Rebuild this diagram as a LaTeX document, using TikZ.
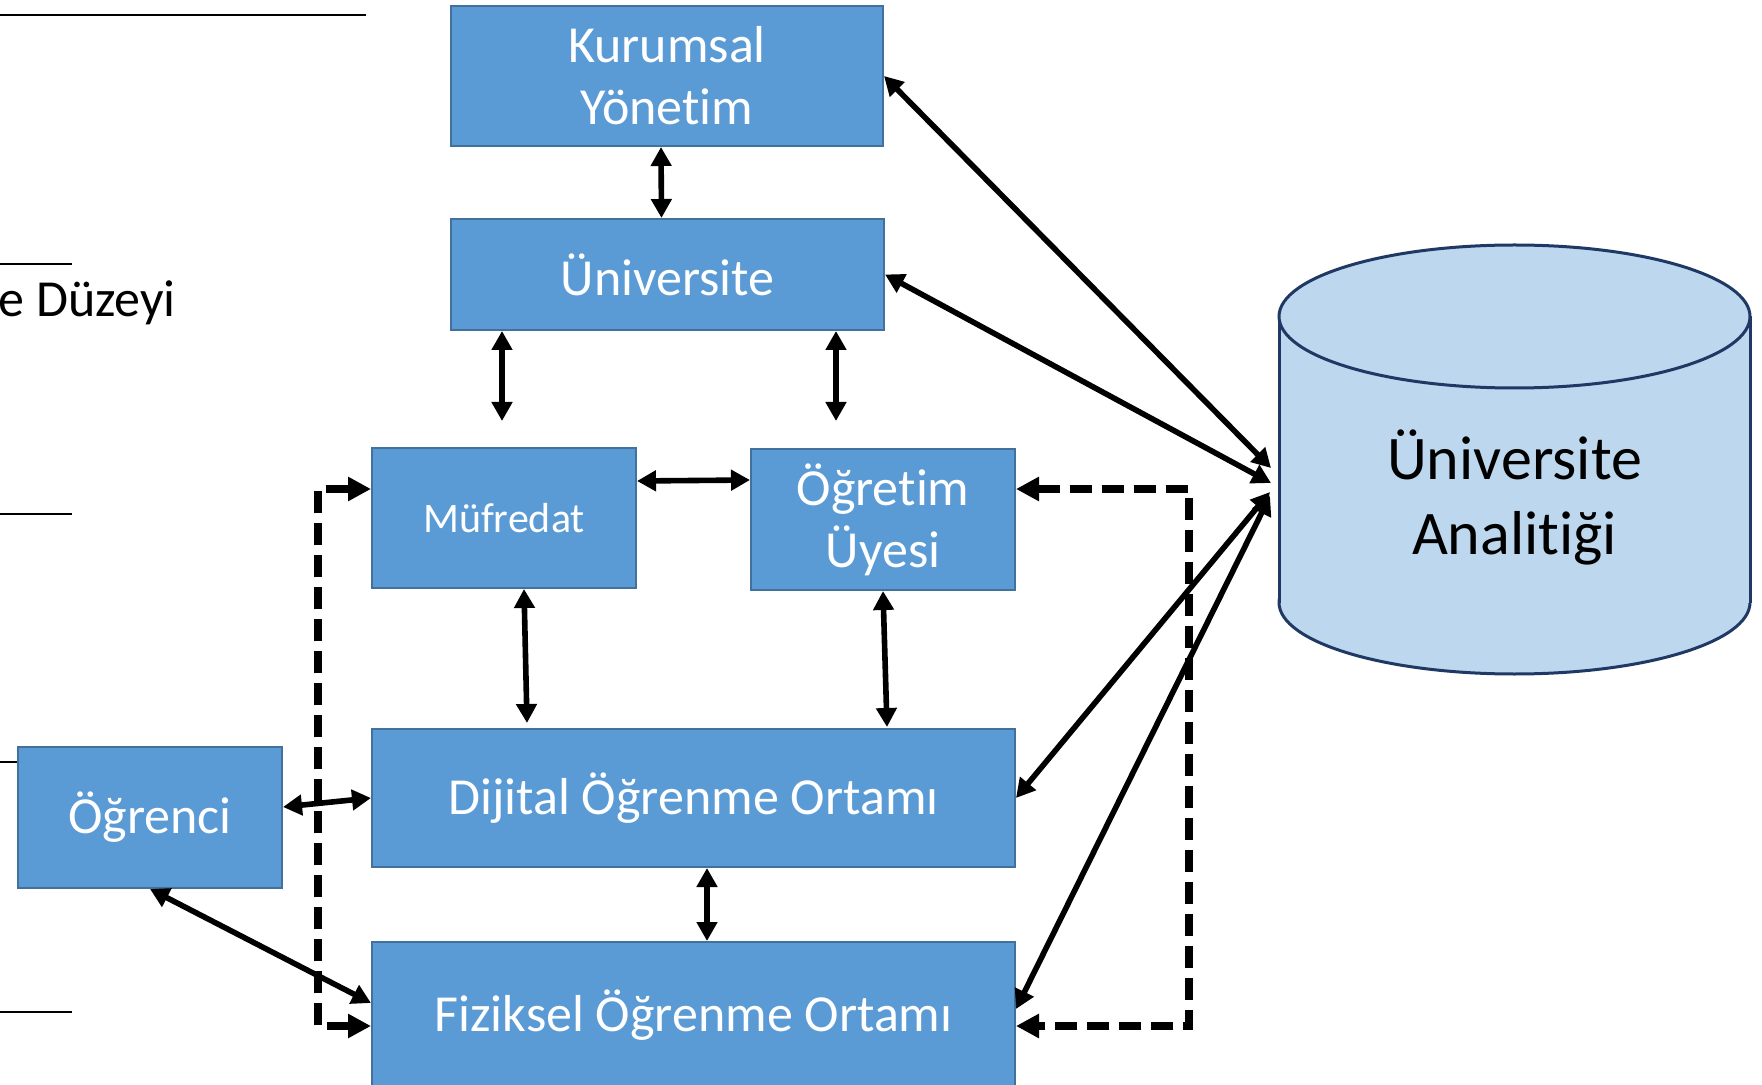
\documentclass[tikz,border=0pt]{standalone}
\usepackage{fontspec}
\setmainfont[RawFeature={-liga}]{Carlito}
\usetikzlibrary{arrows.meta}
\definecolor{boxfill}{HTML}{5B9BD5}
\definecolor{boxline}{HTML}{41719C}
\definecolor{cylfill}{HTML}{BDD7EE}
\definecolor{cylline}{HTML}{1F3864}
\tikzset{
 blk/.style={draw=boxline, fill=boxfill, line width=1pt, inner sep=0pt, text=white, font=\fontsize{26pt}{31pt}\selectfont, align=center},
 dbl/.style={line width=2.8pt, {Triangle[length=9.5pt,width=10pt]}-{Triangle[length=9.5pt,width=10pt]}},
 dsh/.style={line width=4pt, dash pattern=on 11pt off 5pt, {Triangle[length=11.5pt,width=11.5pt]}-{Triangle[length=11.5pt,width=11.5pt]}},
 lvl/.style={line width=1.3pt},
 cyl/.style={fill=cylfill, draw=cylline, line width=1.5pt},
}
\begin{document}
\begin{tikzpicture}[x=0.5pt,y=-0.5pt]
\useasboundingbox (0,0) rectangle (1762,1085);
\clip (0,0) rectangle (1762,1085);
% level lines
\draw[lvl] (0,15) -- (366,15);
\draw[lvl] (0,264) -- (72,264);
\draw[lvl] (0,514) -- (72,514);
\draw[lvl] (0,762) -- (18,762);
\draw[lvl] (0,1012) -- (72,1012);
\node[anchor=base west, font=\fontsize{26pt}{31pt}\selectfont, inner sep=0pt] (lvlt) at (-2,317) {e Düzeyi};
% boxes
\node[blk, minimum width=216pt, minimum height=70pt] (kur) at (667,76) {Kurumsal\\Yönet\kern0pt im};
\node[blk, minimum width=216.5pt, minimum height=55.5pt] (uni) at (667.5,274.5) {Üniversite};
\node[blk, minimum width=132pt, minimum height=70pt, font=\fontsize{21pt}{25pt}\selectfont] (muf) at (504,518) {Müfredat};
\node[blk, minimum width=132pt, minimum height=70.5pt] (ogr) at (883,519.5) {\raisebox{-2pt}{Öğret\kern0pt im}\\\raisebox{-2pt}{Üyesi}};
\node[blk, minimum width=321.5pt, minimum height=69pt] (dij) at (693.5,798) {Dijital Öğrenme Ortamı};
\node[blk, minimum width=321.5pt, minimum height=73pt] (fiz) at (693.5,1015) {Fiziksel Öğrenme Ortamı};
\node[blk, minimum width=132pt, minimum height=70.5pt] (ogc) at (150,817.5) {Öğrenci};
% cylinder
\filldraw[cyl] (1514.5,602.5) ellipse [x radius=117.75pt, y radius=35.75pt];
\fill[cylfill] (1279,316.5) rectangle (1750,602.5);
\draw[cylline, line width=1.5pt] (1279,316.5) -- (1279,602.5) (1750,316.5) -- (1750,602.5);
\filldraw[cyl] (1514.5,316.5) ellipse [x radius=117.75pt, y radius=35.75pt];
\node[font=\fontsize{31pt}{37.5pt}\selectfont, align=center, inner sep=0pt] (ua) at (1514.5,497) {Üniversite\\Analit\kern0pt iği};
% coordinates
\coordinate (m1) at (502,421);
\coordinate (o1) at (836,421);
\coordinate (ua1) at (1271,468);
\coordinate (ua2) at (1271,483);
\coordinate (ua3) at (1270,492);
\coordinate (ua4) at (1270,496);
% solid arrows
\draw[dbl] ([xshift=-3pt]kur.south) -- ([xshift=-3pt]uni.north);
\draw[dbl] (uni.south -| m1) -- (m1);
\draw[dbl] (uni.south -| o1) -- (o1);
\draw[dbl] ([yshift=18.5pt]muf.east) -- ([yshift=19.75pt]ogr.west);
\draw[dbl] ([xshift=10pt]muf.south) -- ([xshift=-83.25pt,yshift=2.5pt]dij.north);
\draw[dbl] (ogr.south) -- ([xshift=96.75pt,yshift=0.5pt]dij.north);
\draw[dbl] ([xshift=6.75pt]dij.south) -- ([xshift=6.75pt]fiz.north);
\draw[dbl] ([yshift=5.25pt]ogc.east) -- (dij.west);
\draw[dbl] (ogc.south) -- ([yshift=6pt]fiz.west);
\draw[dbl] (kur.east) -- (ua1);
\draw[dbl] (uni.east) -- (ua2);
\draw[dbl] (dij.east) -- (ua3);
\draw[dbl] ([yshift=3pt]fiz.east) -- (ua4);
% dashed arrows
\draw[dsh] ([yshift=-5.5pt]fiz.west) -- ++(-26.5pt,0) |- ([yshift=14.5pt]muf.west);
\draw[dsh] ([yshift=15.25pt]ogr.east) -- ++(86.5pt,0) |- ([yshift=-5.5pt]fiz.east);
\end{tikzpicture}
\end{document}
